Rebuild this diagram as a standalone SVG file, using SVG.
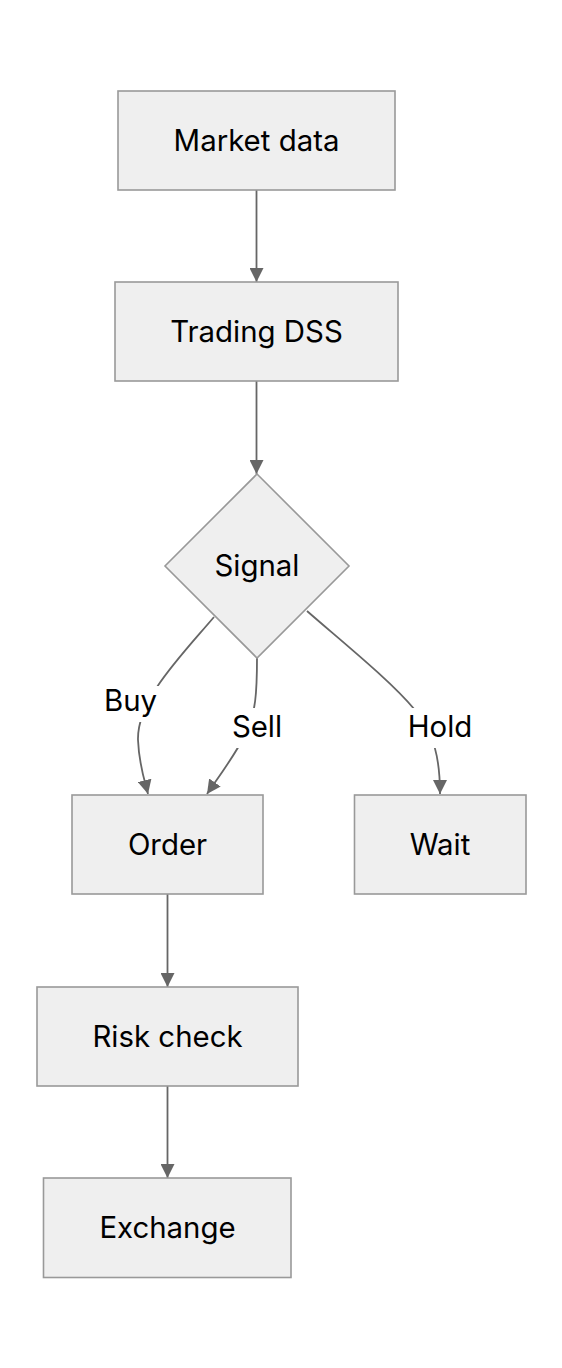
<svg xmlns="http://www.w3.org/2000/svg" width="562" height="1368" viewBox="0 0 562 1368">
<style>
.node{fill:#efefef;stroke:#999999;stroke-width:1.6}
.lbl{font-family:Inter,"Liberation Sans",sans-serif;font-size:29.4px;fill:#000000;text-anchor:middle}
.edge{fill:none;stroke:#666666;stroke-width:1.8}
.lblbg{fill:#ffffff}
</style>
<defs>
<marker id="arrow" viewBox="0 0 10 10" refX="10" refY="5" markerWidth="14" markerHeight="14" markerUnits="userSpaceOnUse" orient="auto">
<path d="M0,0 L10,5 L0,10 z" fill="#666666"/>
</marker>
</defs>
<rect width="562" height="1368" fill="#ffffff"/>
<g id="connectors">
<path class="edge" d="M256.5,190 L256.5,282" marker-end="url(#arrow)"/>
<path class="edge" d="M256.5,381 L256.5,474" marker-end="url(#arrow)"/>
<path class="edge" d="M214,617 C180,657 137,700 138,740 C139,765 145,782 148,794" marker-end="url(#arrow)"/>
<path class="edge" d="M257,658 C257,690 256,715 245,735 C235,755 220,775 207,794" marker-end="url(#arrow)"/>
<path class="edge" d="M307,611 C340,640 390,680 415,710 C435,735 440,760 440,794" marker-end="url(#arrow)"/>
<path class="edge" d="M167.5,894 L167.5,987" marker-end="url(#arrow)"/>
<path class="edge" d="M167.5,1086 L167.5,1178" marker-end="url(#arrow)"/>
<g id="edge-labels">
<rect class="lblbg" x="102" y="686" width="57" height="36"/>
<text class="lbl" x="130.5" y="710.5">Buy</text>
<rect class="lblbg" x="229" y="708" width="56" height="40"/>
<text class="lbl" x="257" y="737">Sell</text>
<rect class="lblbg" x="405" y="708" width="70" height="40"/>
<text class="lbl" x="440" y="737">Hold</text>
</g>
</g>
<g id="market-data">
<rect class="node" x="118" y="91" width="277" height="99"/>
<text class="lbl" x="256.5" y="151">Market data</text>
</g>
<g id="trading-dss">
<rect class="node" x="115" y="282" width="283" height="99"/>
<text class="lbl" x="256.5" y="342">Trading DSS</text>
</g>
<g id="signal">
<polygon class="node" points="257,474 349,566 257,658 165,566"/>
<text class="lbl" x="257" y="576">Signal</text>
</g>
<g id="order">
<rect class="node" x="72" y="795" width="191" height="99"/>
<text class="lbl" x="167.5" y="855">Order</text>
</g>
<g id="wait">
<rect class="node" x="354.5" y="795" width="171.5" height="99"/>
<text class="lbl" x="440" y="855">Wait</text>
</g>
<g id="risk-check">
<rect class="node" x="37" y="987" width="261" height="99"/>
<text class="lbl" x="167.5" y="1047">Risk check</text>
</g>
<g id="exchange">
<rect class="node" x="43.5" y="1178" width="247.5" height="99.5"/>
<text class="lbl" x="167.5" y="1238">Exchange</text>
</g>
</svg>
